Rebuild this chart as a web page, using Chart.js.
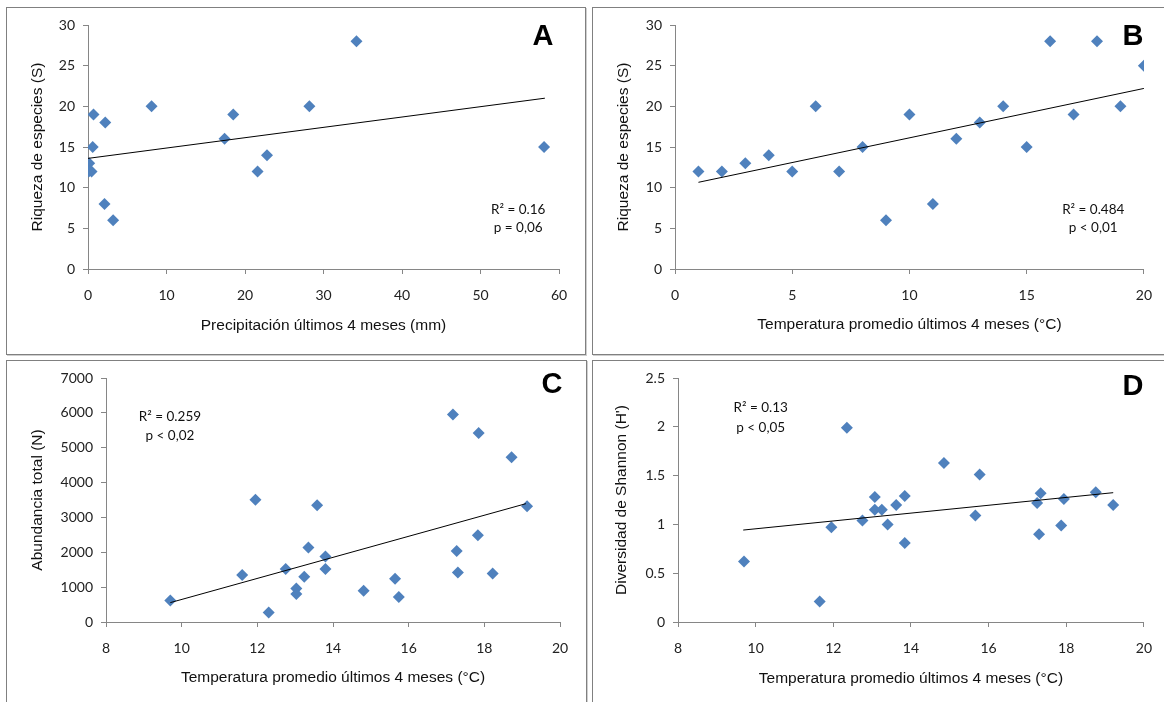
<!DOCTYPE html>
<html>
<head>
<meta charset="utf-8">
<script src="https://cdn.jsdelivr.net/npm/chart.js@4.4.0/dist/chart.umd.min.js"></script>
<style>
  html, body { margin: 0; padding: 0; background: #fff; }
  body { width: 1164px; height: 702px; position: relative; overflow: hidden; }
  .panel { position: absolute; border: 1px solid #808080; box-shadow: 1px 1px 0 #cfcfcf; background: #fff; }
  .panel canvas { position: absolute; left: 0; top: 0; }
</style>
</head>
<body>
<div class="panel" id="pA" style="left:6px;top:7px;width:578px;height:346px;"><canvas id="cA"></canvas></div>
<div class="panel" id="pB" style="left:592px;top:7px;width:574px;height:346px;"><canvas id="cB"></canvas></div>
<div class="panel" id="pC" style="left:6px;top:360px;width:579px;height:350px;"><canvas id="cC"></canvas></div>
<div class="panel" id="pD" style="left:592px;top:360px;width:574px;height:350px;"><canvas id="cD"></canvas></div>
<script>
// ---- Panel A: richness vs precipitation ----
const precipA   = [0.7, 2.2, 0.6, 0.15, 0.1, 0.45, 2.1, 3.2, 8.1, 17.4, 18.5, 21.6, 22.8, 28.2, 34.2, 58.1];
const richnessA = [19, 18, 15, 13, 12, 12, 8, 6, 20, 16, 19, 12, 14, 20, 28, 15];
const trendAx = [0, 58.2];
const trendAy = [13.6, 21.0];
const xTicksA = [0, 10, 20, 30, 40, 50, 60];
const yTicksA = [0, 5, 10, 15, 20, 25, 30];

// ---- Panel B: richness vs temperature ----
const tempB     = [1, 2, 3, 4, 5, 6, 7, 8, 9, 10, 11, 12, 13, 14, 15, 16, 17, 18, 19, 20];
const richnessB = [12, 12, 13, 14, 12, 20, 12, 15, 6, 19, 8, 16, 18, 20, 15, 28, 19, 28, 20, 25];
const trendBx = [1, 20];
const trendBy = [10.66, 22.2];
const xTicksB = [0, 5, 10, 15, 20];
const yTicksB = [0, 5, 10, 15, 20, 25, 30];

// ---- Panel C: abundance vs temperature ----
const tempC      = [9.7, 11.6, 11.95, 12.3, 12.75, 13.03, 13.03, 13.24, 13.35, 13.58, 13.8, 13.8, 14.81, 15.64, 15.74, 17.17, 17.27, 17.3, 17.85, 17.83, 18.22, 18.72, 19.13];
const abundanceC = [620, 1350, 3510, 270, 1520, 960, 800, 1300, 2140, 3350, 1880, 1520, 900, 1240, 720, 5950, 2040, 1420, 5420, 2490, 1390, 4730, 3320];
const trendCx = [9.7, 19.1];
const trendCy = [556, 3395];
const xTicksC = [8, 10, 12, 14, 16, 18, 20];
const yTicksC = [0, 1000, 2000, 3000, 4000, 5000, 6000, 7000];

// ---- Panel D: Shannon diversity vs temperature ----
const tempD    = [9.7, 11.65, 11.95, 12.35, 12.75, 13.07, 13.07, 13.25, 13.4, 13.62, 13.84, 13.84, 14.85, 15.66, 15.77, 17.25, 17.34, 17.3, 17.87, 17.94, 18.76, 19.21];
const shannonD = [0.62, 0.21, 0.97, 1.99, 1.04, 1.28, 1.15, 1.15, 1.0, 1.2, 1.29, 0.81, 1.63, 1.09, 1.51, 1.22, 1.32, 0.9, 0.99, 1.26, 1.33, 1.2];
const trendDx = [9.68, 19.21];
const trendDy = [0.942, 1.325];
const xTicksD = [8, 10, 12, 14, 16, 18, 20];
const yTicksD = [0, 0.5, 1, 1.5, 2, 2.5];

const AXIS = '#868686';
const MARK = '#4F81BD';
const TICKFONT = { family: 'Lato', size: 14 };
const TITLEFONT = { family: 'Liberation Sans', size: 15.5 };

const pts = (xs, ys) => xs.map((x, i) => ({ x: x, y: ys[i] }));

// plugin: panel letter + regression annotation (anchored in data coordinates)
const annot = {
  id: 'annot',
  afterDraw(chart, args, o) {
    const ctx = chart.ctx;
    const xs = chart.scales.x, ys = chart.scales.y;
    ctx.save();
    ctx.fillStyle = '#000';
    ctx.textAlign = 'center';
    ctx.textBaseline = 'middle';
    ctx.font = 'bold 29px "Liberation Sans"';
    ctx.fillText(o.letter, o.letterX, o.letterY);
    ctx.font = '13.5px Lato';
    ctx.fillStyle = '#111';
    o.lines.forEach(l => ctx.fillText(l.text, xs.getPixelForValue(l.x), ys.getPixelForValue(l.y)));
    ctx.restore();
  }
};

function make(id, w, h, cfg) {
  const cv = document.getElementById(id);
  cv.width = w; cv.height = h;
  cv.style.width = w + 'px'; cv.style.height = h + 'px';
  new Chart(cv, {
    type: 'scatter',
    data: {
      datasets: [
        { data: pts(cfg.px, cfg.py), pointStyle: 'rectRot', pointRadius: 6, pointHoverRadius: 6,
          backgroundColor: MARK, borderColor: MARK, borderWidth: 0, order: 2 },
        { type: 'line', data: pts(cfg.tx, cfg.ty), borderColor: '#000', borderWidth: 1,
          pointRadius: 0, fill: false, order: 1 }
      ]
    },
    options: {
      responsive: false, animation: false, devicePixelRatio: 1,
      layout: { padding: cfg.pad },
      plugins: { legend: { display: false }, tooltip: { enabled: false }, annot: cfg.annot },
      scales: {
        x: {
          type: 'linear', min: cfg.xt[0], max: cfg.xt[cfg.xt.length - 1],
          afterBuildTicks: s => { s.ticks = cfg.xt.map(v => ({ value: v })); },
          afterFit: s => { s.height = cfg.xh; },
          border: { color: AXIS, width: 1 },
          grid: { drawOnChartArea: false, drawTicks: true, tickLength: 5, color: AXIS, tickColor: AXIS, tickWidth: 1 },
          ticks: { font: TICKFONT, color: '#222', padding: 13, maxRotation: 0, callback: v => String(v) },
          title: { display: true, text: cfg.xTitle, font: TITLEFONT, color: '#111', padding: { top: 0, bottom: cfg.xtp } }
        },
        y: {
          type: 'linear', min: cfg.yt[0], max: cfg.yt[cfg.yt.length - 1],
          afterBuildTicks: s => { s.ticks = cfg.yt.map(v => ({ value: v })); },
          afterFit: s => { s.width = cfg.yw; },
          border: { color: AXIS, width: 1 },
          grid: { drawOnChartArea: false, drawTicks: true, tickLength: 5, color: AXIS, tickColor: AXIS, tickWidth: 1 },
          ticks: { font: TICKFONT, color: '#222', padding: 8, callback: v => String(v) },
          title: { display: true, text: cfg.yTitle, font: TITLEFONT, color: '#111', padding: { top: cfg.ytp, bottom: 0 } }
        }
      }
    },
    plugins: [annot]
  });
}

make('cA', 577, 345, {
  px: precipA, py: richnessA, tx: trendAx, ty: trendAy, xt: xTicksA, yt: yTicksA,
  pad: { left: 0, top: 17, right: 25, bottom: 0 }, yw: 81, xh: 84, xtp: 17.7, ytp: 21.7,
  xTitle: 'Precipitación últimos 4 meses (mm)', yTitle: 'Riqueza de especies (S)',
  annot: { letter: 'A', letterX: 536, letterY: 29,
    lines: [{ text: 'R² = 0.16', x: 54.8, y: 7.26 }, { text: 'p = 0,06', x: 54.8, y: 5.04 }] }
});

make('cB', 572, 345, {
  px: tempB, py: richnessB, tx: trendBx, ty: trendBy, xt: xTicksB, yt: yTicksB,
  pad: { left: 0, top: 17, right: 20, bottom: 0 }, yw: 82, xh: 84, xtp: 18.7, ytp: 21.7,
  xTitle: 'Temperatura promedio últimos 4 meses (°C)', yTitle: 'Riqueza de especies (S)',
  annot: { letter: 'B', letterX: 540, letterY: 29,
    lines: [{ text: 'R² = 0.484', x: 17.84, y: 7.26 }, { text: 'p < 0,01', x: 17.84, y: 5.04 }] }
});

make('cC', 578, 349, {
  px: tempC, py: abundanceC, tx: trendCx, ty: trendCy, xt: xTicksC, yt: yTicksC,
  pad: { left: 0, top: 17, right: 25, bottom: 8 }, yw: 99, xh: 80, xtp: 14.7, ytp: 21.7,
  xTitle: 'Temperatura promedio últimos 4 meses (°C)', yTitle: 'Abundancia total (N)',
  annot: { letter: 'C', letterX: 545, letterY: 24,
    lines: [{ text: 'R² = 0.259', x: 9.69, y: 5900 }, { text: 'p < 0,02', x: 9.69, y: 5356 }] }
});

make('cD', 572, 349, {
  px: tempD, py: shannonD, tx: trendDx, ty: trendDy, xt: xTicksD, yt: yTicksD,
  pad: { left: 0, top: 17, right: 21, bottom: 8 }, yw: 85, xh: 80, xtp: 14.4, ytp: 19.4,
  xTitle: 'Temperatura promedio últimos 4 meses (°C)', yTitle: "Diversidad de Shannon (H')",
  annot: { letter: 'D', letterX: 540, letterY: 26,
    lines: [{ text: 'R² = 0.13', x: 10.13, y: 2.196 }, { text: 'p < 0,05', x: 10.13, y: 1.99 }] }
});
</script>
</body>
</html>
